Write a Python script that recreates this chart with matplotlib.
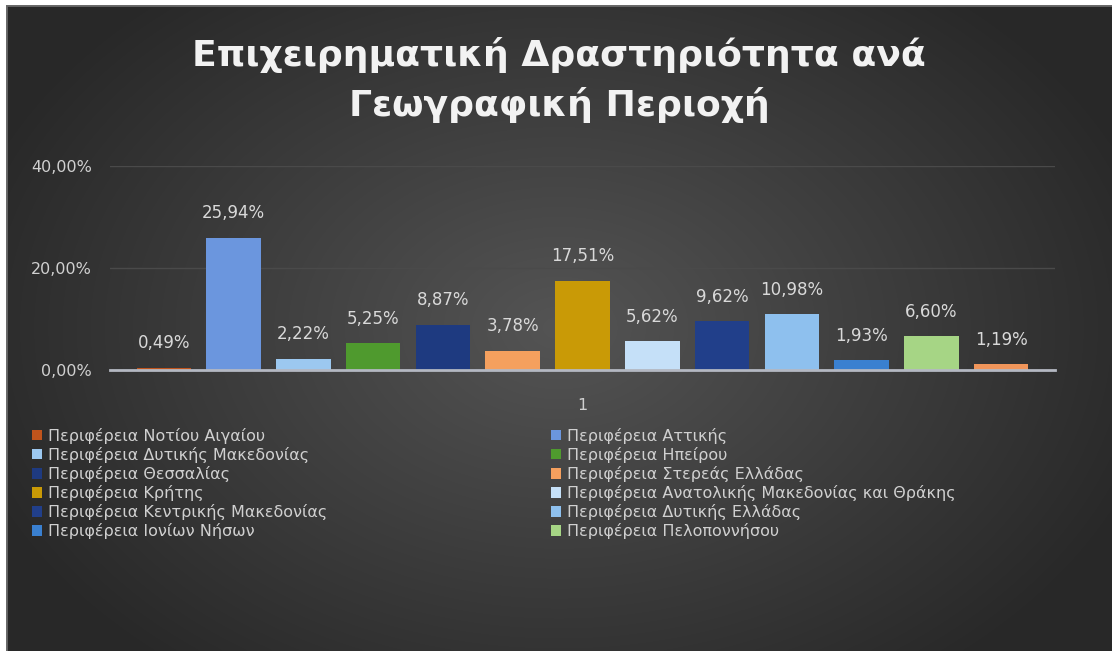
import numpy as np
import matplotlib
matplotlib.use('Agg')
from matplotlib import pyplot as plt

## data
regions = ['Περιφέρεια Νοτίου Αιγαίου', 'Περιφέρεια Αττικής',
           'Περιφέρεια Δυτικής Μακεδονίας', 'Περιφέρεια Ηπείρου',
           'Περιφέρεια Θεσσαλίας', 'Περιφέρεια Στερεάς Ελλάδας',
           'Περιφέρεια Κρήτης', 'Περιφέρεια Ανατολικής Μακεδονίας και Θράκης',
           'Περιφέρεια Κεντρικής Μακεδονίας', 'Περιφέρεια Δυτικής Ελλάδας',
           'Περιφέρεια Ιονίων Νήσων', 'Περιφέρεια Πελοποννήσου',
           'Περιφέρεια Βορείου Αιγαίου']
shares = [0.49, 25.94, 2.22, 5.25, 8.87, 3.78, 17.51, 5.62, 9.62, 10.98, 1.93, 6.60, 1.19]
colors = ['#c0541c', '#6b96de', '#9cc8f0', '#4f9a2e', '#1e3a80', '#f5a05e', '#c99a06',
          '#c5e0f8', '#213f8a', '#8ec0ee', '#3a80d0', '#a6d585', '#f0955a']
yticks = [0, 20, 40]
title = 'Επιχειρηματική Δραστηριότητα ανά\nΓεωγραφική Περιοχή'

W, H = 1112, 651
fig = plt.figure(figsize=(W / 100, H / 100), dpi=100, facecolor='white')

## dark background with a soft radial gradient
bg = fig.add_axes([6 / W, 0, 1 - 6 / W, 1 - 5 / H])
yy, xx = np.mgrid[0:1:300j, 0:1:500j]
r = np.sqrt(((xx - 0.5) / 0.62) ** 2 + ((yy - 0.5) / 0.75) ** 2)
shade = np.clip(0.33 - 0.19 * r, 0.16, 0.33)
bg.imshow(np.dstack([shade] * 3), aspect='auto', extent=[0, 1, 0, 1], interpolation='bilinear')
bg.plot([0, 1], [1, 1], color='#6a6a6a', lw=2, transform=bg.transAxes)
bg.plot([0, 0], [0, 1], color='#6a6a6a', lw=2, transform=bg.transAxes)
bg.set_axis_off()

## plot area
ax = fig.add_axes([110 / W, (H - 370) / H, (1055 - 110) / W, 204 / H])
ax.patch.set_alpha(0)
x = np.arange(len(shares))
bars = ax.bar(x, shares, width=0.78, color=colors, label=regions, zorder=3)
for xi, v in zip(x, shares):
    ax.annotate(('%.2f%%' % v).replace('.', ','), (xi, v), xytext=(0, 11),
                textcoords='offset points', ha='center', va='bottom',
                color='#d9d9d9', fontsize=12)

ax.set_xlim(-0.77, 12.77)
ax.set_ylim(0, 40)
ax.set_yticks(yticks)
ax.set_yticklabels([('%.2f%%' % t).replace('.', ',') for t in yticks])
ax.set_xticks([6])
ax.set_xticklabels(['1'])
ax.tick_params(axis='y', length=0, pad=13, colors='#d0d0d0', labelsize=11.5)
ax.tick_params(axis='x', length=0, pad=20, colors='#d0d0d0', labelsize=11.5)
ax.grid(axis='y', color='#4a4a4a', lw=1, zorder=0)
for s in ['top', 'right', 'left']:
    ax.spines[s].set_visible(False)
ax.spines['bottom'].set_color('#b4b8c2')
ax.spines['bottom'].set_linewidth(2)
ax.spines['bottom'].set_zorder(4)

fig.text(0.503, 1 - 80 / H, title, ha='center', va='center', color='#f2f2f2',
         fontsize=26, fontweight='bold', linespacing=1.5)

## legend in two columns, filled row by row like the original
handles = list(bars)
leg_kw = dict(loc='upper left', frameon=False, fontsize=11.5, labelcolor='#d0d0d0',
              handlelength=0.6, handleheight=0.6, handletextpad=0.4,
              labelspacing=0.19, borderaxespad=0, borderpad=0)
fig.legend([handles[i] for i in range(0, 12, 2)], [regions[i] for i in range(0, 12, 2)],
           bbox_to_anchor=(32 / W, 1 - 428 / H), **leg_kw)
fig.legend([handles[i] for i in range(1, 12, 2)], [regions[i] for i in range(1, 12, 2)],
           bbox_to_anchor=(551 / W, 1 - 428 / H), **leg_kw)

fig.savefig('out.png', dpi=100, facecolor=fig.get_facecolor())
